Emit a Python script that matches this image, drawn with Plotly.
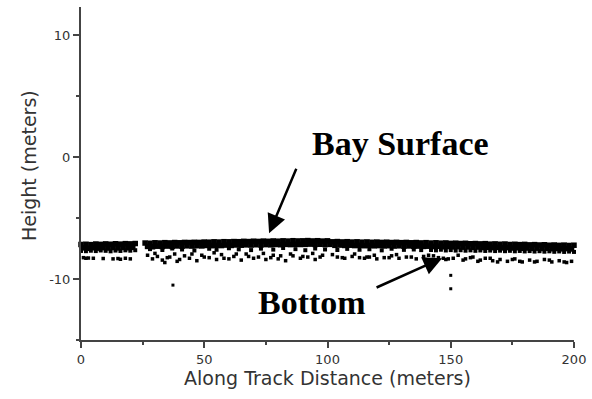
import plotly.graph_objects as go

# ---------------- data ----------------
surface_top_x = [0, 2, 4, 6, 8, 10, 12, 14, 16, 18, 20, 22,
                 26, 28, 30, 32, 34, 36, 38, 40, 42, 44,
                 46, 48, 50, 52, 54, 56, 58, 60, 62, 64,
                 66, 68, 70, 72, 74, 76, 78, 80, 82, 84,
                 86, 88, 90, 92, 94, 96, 98, 100, 102, 104,
                 106, 108, 110, 112, 114, 116, 118, 120, 122, 124,
                 126, 128, 130, 132, 134, 136, 138, 140, 142, 144,
                 146, 148, 150, 152, 154, 156, 158, 160, 162, 164,
                 166, 168, 170, 172, 174, 176, 178, 180, 182, 184,
                 186, 188, 190, 192, 194, 196, 198, 200]
surface_top_y = [-7.17, -7.15, -7.18, -7.13, -7.16, -7.12, -7.15, -7.11, -7.14, -7.10, -7.12, -7.09,
                 -7.05, -7.07, -7.03, -7.05, -7.02, -7.04, -7.01, -7.03, -7.00, -7.01,
                 -6.99, -7.00, -6.97, -6.98, -6.95, -6.97, -6.94, -6.95, -6.93, -6.94,
                 -6.91, -6.93, -6.90, -6.92, -6.89, -6.91, -6.88, -6.90, -6.87, -6.89,
                 -6.86, -6.88, -6.87, -6.85, -6.88, -6.86, -6.89, -6.87, -6.95, -6.93,
                 -6.96, -6.94, -6.97, -6.95, -6.98, -6.96, -6.99, -6.97, -7.00, -6.98,
                 -7.01, -6.99, -7.02, -7.00, -7.03, -7.01, -7.04, -7.02, -7.05, -7.03,
                 -7.06, -7.04, -7.08, -7.06, -7.09, -7.07, -7.11, -7.09, -7.12, -7.10,
                 -7.14, -7.12, -7.15, -7.13, -7.17, -7.15, -7.18, -7.16, -7.20, -7.18,
                 -7.21, -7.19, -7.23, -7.21, -7.24, -7.22, -7.25, -7.23]

surface_mid_x = [1, 3, 5, 7, 9, 11, 13, 15, 17, 19, 21,
                 27, 29, 31, 33, 35, 37, 39, 41, 43, 45,
                 47, 49, 51, 53, 55, 57, 59, 61, 63, 65,
                 67, 69, 71, 73, 75, 77, 79, 81, 83, 85,
                 87, 89, 91, 93, 95, 97, 99, 101, 103, 105,
                 107, 109, 111, 113, 115, 117, 119, 121, 123, 125,
                 127, 129, 131, 133, 135, 137, 139, 141, 143, 145,
                 147, 149, 151, 153, 155, 157, 159, 161, 163, 165,
                 167, 169, 171, 173, 175, 177, 179, 181, 183, 185,
                 187, 189, 191, 193, 195, 197, 199]
surface_mid_y = [-7.45, -7.48, -7.44, -7.47, -7.43, -7.46, -7.42, -7.45, -7.41, -7.44, -7.40,
                 -7.33, -7.36, -7.31, -7.34, -7.30, -7.33, -7.29, -7.32, -7.28, -7.30,
                 -7.27, -7.29, -7.25, -7.27, -7.24, -7.26, -7.22, -7.25, -7.21, -7.23,
                 -7.20, -7.22, -7.19, -7.21, -7.18, -7.20, -7.17, -7.19, -7.16, -7.18,
                 -7.15, -7.17, -7.16, -7.14, -7.17, -7.15, -7.18, -7.16, -7.24, -7.22,
                 -7.25, -7.23, -7.26, -7.24, -7.27, -7.25, -7.28, -7.26, -7.29, -7.27,
                 -7.30, -7.28, -7.31, -7.29, -7.32, -7.30, -7.33, -7.31, -7.34, -7.32,
                 -7.36, -7.34, -7.37, -7.35, -7.39, -7.37, -7.40, -7.38, -7.42, -7.40,
                 -7.43, -7.41, -7.45, -7.43, -7.46, -7.44, -7.48, -7.46, -7.49, -7.47,
                 -7.50, -7.48, -7.52, -7.50, -7.53, -7.51, -7.54]

surface_low_x = [0, 2, 4, 6, 8, 10, 12, 14, 16, 18, 20, 22,
                 28, 33, 37, 41, 46, 52, 55, 60, 64, 69,
                 73, 78, 82, 87, 91, 95, 99, 104, 108, 113,
                 117, 122, 126, 131, 135, 138,
                 142, 144, 146, 148, 150, 152, 154, 156, 158, 160,
                 162, 164, 166, 168, 170, 172, 174, 176, 178, 180,
                 182, 184, 186, 188, 190, 192, 194, 196, 198, 200]
surface_low_y = [-7.70, -7.72, -7.68, -7.71, -7.66, -7.69, -7.73, -7.67, -7.70, -7.65, -7.68, -7.64,
                 -7.55, -7.62, -7.50, -7.58, -7.66, -7.52, -7.60, -7.48, -7.57, -7.63,
                 -7.51, -7.59, -7.46, -7.55, -7.64, -7.50, -7.58, -7.62, -7.53, -7.60,
                 -7.56, -7.65, -7.52, -7.61, -7.58, -7.63,
                 -7.62, -7.65, -7.60, -7.66, -7.63, -7.67, -7.64, -7.68, -7.65, -7.69,
                 -7.66, -7.70, -7.67, -7.71, -7.68, -7.72, -7.69, -7.73, -7.70, -7.74,
                 -7.71, -7.75, -7.72, -7.76, -7.73, -7.77, -7.74, -7.78, -7.75, -7.78]

bottom_x = [1, 2, 3, 13, 15, 16, 18,
            27, 29, 31, 33, 34, 36, 38, 40, 42, 44,
            47, 49, 52, 55, 57, 60, 62, 65, 67, 70,
            72, 75, 78, 80, 83, 86, 89, 92, 95, 98,
            104, 107, 110, 113, 115, 117, 120, 123, 126, 129,
            132, 136, 139, 143, 145, 148, 151, 153, 156, 159,
            162, 164, 167, 170, 173, 176, 179, 182, 185, 188,
            191, 194, 197, 199]
bottom_y = [-8.25, -8.30, -8.28, -8.35, -8.32, -8.38, -8.30,
            -8.05, -8.35, -8.15, -8.45, -8.65, -8.20, -7.95, -8.40, -8.10, -8.30,
            -8.50, -8.05, -8.25, -8.40, -8.00, -8.35, -8.15, -8.45, -7.95, -8.30,
            -8.20, -8.40, -8.05, -8.35, -8.50, -8.10, -8.30, -8.20, -8.40, -8.05,
            -8.20, -8.30, -8.15, -8.25, -8.30, -8.20, -8.35, -8.25, -8.10, -8.30,
            -8.20, -8.35, -8.15, -8.10, -8.25, -8.40, -8.30, -8.05, -8.35, -8.20,
            -8.45, -8.30, -8.50, -8.40, -8.55, -8.35, -8.60, -8.45, -8.55, -8.40,
            -8.60, -8.50, -8.65, -8.55]

bottom2_x = [5, 9, 20, 30, 35, 39, 45, 50, 54, 58,
             63, 68, 74, 77, 81, 85, 90, 94, 97, 102,
             106, 111, 116, 119, 125, 128, 134, 141, 147, 149,
             155, 158, 161, 166, 169, 175, 178, 184, 190, 196]
bottom2_y = [-8.30, -8.32, -8.35, -7.90, -8.25, -8.55, -7.95, -8.20, -7.85, -8.30,
             -7.95, -8.15, -7.90, -8.25, -8.10, -7.95, -8.15, -7.90, -8.20, -8.00,
             -8.25, -7.95, -8.20, -8.05, -8.25, -8.00, -8.20, -8.05, -8.30, -8.35,
             -8.45, -8.25, -8.55, -8.30, -8.60, -8.40, -8.55, -8.60, -8.45, -8.60]

outlier_x = [37.3, 150.0, 150.0]
outlier_y = [-10.5, -9.7, -10.8]

x_tickvals = [0, 50, 100, 150, 200]
x_ticktext = ["0", "50", "100", "150", "200"]
y_tickvals = [-10, 0, 10]
y_ticktext = ["-10", "0", "10"]

# ---------------- figure ----------------
fig = go.Figure()

def add_points(xs, ys, size):
    fig.add_trace(go.Scatter(
        x=xs, y=ys, mode="markers",
        marker=dict(symbol="square", size=size, color="black", line=dict(width=0)),
        cliponaxis=False, showlegend=False, hoverinfo="skip"))

add_points(surface_top_x, surface_top_y, 5.5)
add_points(surface_mid_x, surface_mid_y, 5.5)
add_points(surface_low_x, surface_low_y, 4)
add_points(bottom_x, bottom_y, 3.5)
add_points(bottom2_x, bottom2_y, 3.5)
add_points(outlier_x, outlier_y, 3)

axis_color = "#444444"
tick_font = dict(family="DejaVu Sans", size=13, color="#333333")

fig.update_xaxes(
    range=[0, 200], showgrid=False, zeroline=False,
    showline=True, linecolor=axis_color, linewidth=2,
    ticks="outside", ticklen=6, tickwidth=1.5, tickcolor=axis_color,
    tickvals=x_tickvals, ticktext=x_ticktext, tickfont=tick_font,
    minor=dict(tickvals=[25, 75, 125, 175], ticks="outside", ticklen=3,
               tickwidth=1.5, tickcolor=axis_color),
    title=dict(text="Along Track Distance (meters)",
               font=dict(family="DejaVu Sans", size=19, color="#333333"),
               standoff=6),
)
fig.update_yaxes(
    range=[-15, 12.3], showgrid=False, zeroline=False,
    showline=True, linecolor=axis_color, linewidth=2,
    ticks="outside", ticklen=6, tickwidth=1.5, tickcolor=axis_color,
    tickvals=y_tickvals, ticktext=y_ticktext, tickfont=tick_font,
    minor=dict(tickvals=[-15, -5, 5], ticks="outside", ticklen=3,
               tickwidth=1.5, tickcolor=axis_color),
)

label_font = dict(family="Liberation Serif, Times New Roman, serif", size=34, color="black")

fig.add_annotation(x=129.8, y=1.14, xref="x", yref="y", text="<b>Bay Surface</b>",
                   showarrow=False, font=label_font, xanchor="center", yanchor="middle")
fig.add_annotation(x=93.7, y=-11.9, xref="x", yref="y", text="<b>Bottom</b>",
                   showarrow=False, font=label_font, xanchor="center", yanchor="middle")

arrow_style = dict(showarrow=True, arrowhead=2, arrowsize=1.5, arrowwidth=2.5,
                   arrowcolor="black", xref="x", yref="y", axref="x", ayref="y",
                   text="", standoff=0, startstandoff=0)
fig.add_annotation(x=76.3, y=-6.24, ax=87.6, ay=-0.83, **arrow_style)
fig.add_annotation(x=146.5, y=-8.29, ax=119.3, ay=-10.75, **arrow_style)

fig.add_annotation(x=-0.1055, y=0.5255, xref="paper", yref="paper",
                   text="Height (meters)", textangle=-90, showarrow=False,
                   font=dict(family="DejaVu Sans", size=19, color="#333333"),
                   xanchor="center", yanchor="middle")

fig.update_layout(
    width=592, height=399,
    margin=dict(l=81, r=18, t=7, b=59),
    paper_bgcolor="white", plot_bgcolor="white",
)

fig.write_html("out.html")
